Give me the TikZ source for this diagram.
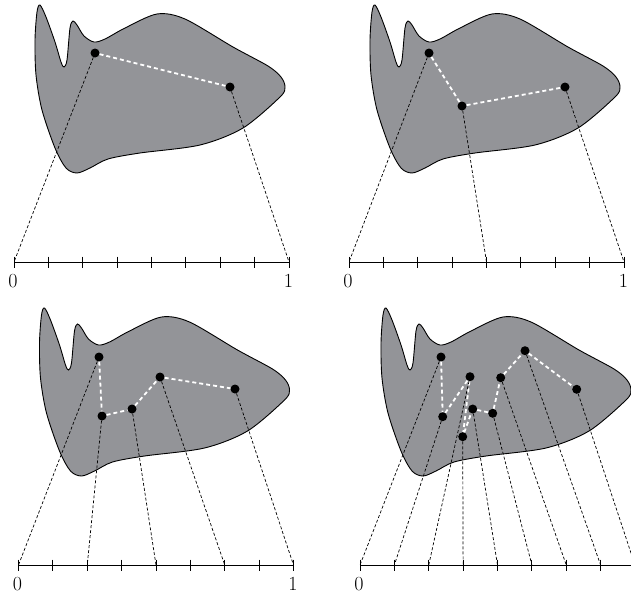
\documentclass[tikz,border=0pt]{standalone}
\definecolor{blobgray}{HTML}{939498}
\tikzset{
  blob/.pic={
    \filldraw[fill=blobgray, draw=black, line width=0.9pt]
      plot[smooth cycle, tension=0.5] coordinates {
        (40,5) (46,17) (55,42) (61,62) (64,67) (67,60) (70,28) (73,21)
        (77,25) (84,36) (94,42) (105,39) (125,28) (157,14) (185,19)
        (233,47) (268,66) (281,77) (285,87) (280,97) (243,128) (200,145) (140,153)
        (108,159) (90,168) (77,173) (66,168) (55,148) (42,110) (36,75)
        (35,40) (37,12)};
  },
  dot/.style={circle, fill=black, inner sep=0pt, minimum size=9pt},
  whitedash/.style={draw=white, line width=1.8pt, dash pattern=on 4pt off 3pt},
  blackdash/.style={draw=black, line width=0.7pt, dash pattern=on 3pt off 2pt},
  axisline/.style={draw=black, line width=1pt},
  numlabel/.style={font=\fontsize{20}{22}\selectfont, inner sep=0pt}
}
% axis with named tick coordinates, prefix #1
\newcommand\myaxis[2]{%
  \foreach \i in {0,...,8} {
    \coordinate (#1t\i) at ({14+34.375*\i},262);
    \draw[axisline] ({14+34.375*\i},256.5) -- ({14+34.375*\i},267.5);
  }
  \draw[axisline] (#1t0) -- (#1t8);
  \node[numlabel] (#1zero) at (13,281) {0};
  \ifnum#2=1 \node[numlabel] (#1one) at (288.5,281) {1};\fi
}
\begin{document}
\begin{tikzpicture}[x=1pt,y=-1pt]
\useasboundingbox (0,0) rectangle (631,595);
\clip (0,0) rectangle (631,595);
% ---------- panel 1
\begin{scope}[shift={(0,0)}]
  \pic {blob};
  \myaxis{a}{1}
  \node[dot] (a1) at (95,53) {};
  \node[dot] (a2) at (230,87) {};
  \draw[whitedash] (a1) -- (a2);
  \draw[blackdash] (a1) -- (at0);
  \draw[blackdash] (a2) -- (at8);
\end{scope}
% ---------- panel 2
\begin{scope}[shift={(335,0)}]
  \pic {blob};
  \myaxis{b}{1}
  \node[dot] (b1) at (94,53) {};
  \node[dot] (b2) at (127,106) {};
  \node[dot] (b3) at (230,87) {};
  \draw[whitedash] (b1) -- (b2) -- (b3);
  \draw[blackdash] (b1) -- (bt0);
  \draw[blackdash] (b2) -- (bt4);
  \draw[blackdash] (b3) -- (bt8);
\end{scope}
% ---------- panel 3
\begin{scope}[shift={(4.5,303)}]
  \pic {blob};
  \myaxis{c}{1}
  \node[dot] (c1) at (94.5,54) {};
  \node[dot] (c2) at (97.5,113) {};
  \node[dot] (c3) at (127.5,106) {};
  \node[dot] (c4) at (155.5,74) {};
  \node[dot] (c5) at (230.5,86) {};
  \draw[whitedash] (c1) -- (c2) -- (c3) -- (c4) -- (c5);
  \draw[blackdash] (c1) -- (ct0);
  \draw[blackdash] (c2) -- (ct2);
  \draw[blackdash] (c3) -- (ct4);
  \draw[blackdash] (c4) -- (ct6);
  \draw[blackdash] (c5) -- (ct8);
\end{scope}
% ---------- panel 4
\begin{scope}[shift={(346,303)}]
  \pic {blob};
  \myaxis{d}{0}
  \node[dot] (d1) at (95,54) {};
  \node[dot] (d2) at (96.7,113.7) {};
  \node[dot] (d3) at (124,73.7) {};
  \node[dot] (d4) at (116.7,133.7) {};
  \node[dot] (d5) at (126.7,106) {};
  \node[dot] (d6) at (146.7,110.3) {};
  \node[dot] (d7) at (154.7,74.7) {};
  \node[dot] (d8) at (179,47.7) {};
  \node[dot] (d9) at (230.7,86.3) {};
  \draw[whitedash] (d1) -- (d2) -- (d3) -- (d4) -- (d5) -- (d6) -- (d7) -- (d8) -- (d9);
  \draw[blackdash] (d1) -- (dt0);
  \draw[blackdash] (d2) -- (dt1);
  \draw[blackdash] (d3) -- (dt2);
  \draw[blackdash] (d4) -- (dt3);
  \draw[blackdash] (d5) -- (dt4);
  \draw[blackdash] (d6) -- (dt5);
  \draw[blackdash] (d7) -- (dt6);
  \draw[blackdash] (d8) -- (dt7);
  \draw[blackdash] (d9) -- (dt8);
\end{scope}
\end{tikzpicture}
\end{document}
